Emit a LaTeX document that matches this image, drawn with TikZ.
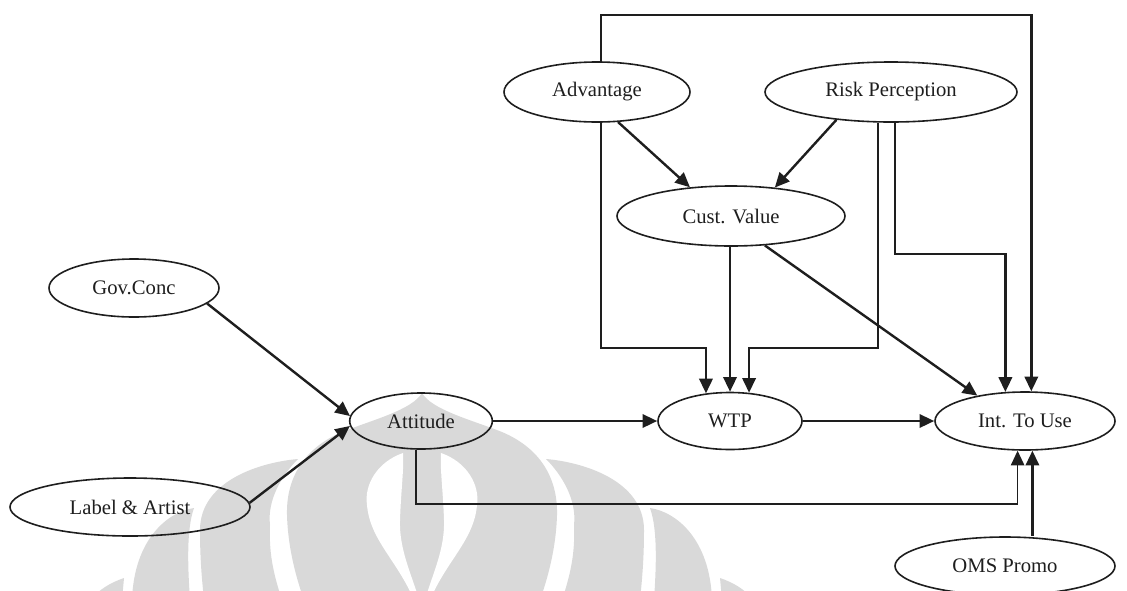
\documentclass[tikz,border=0pt]{standalone}
\usepackage{fontspec}
\setmainfont{Liberation Serif}
\usetikzlibrary{shapes.geometric,arrows.meta}
\definecolor{wm}{RGB}{217,217,217}
\definecolor{ink}{RGB}{30,30,30}
\begin{document}
\begin{tikzpicture}[x=0.75pt,y=-0.75pt,
  oval/.style={ellipse,draw=ink,line width=1.2pt,inner sep=0pt,text=ink,font=\fontsize{15.5}{18}\selectfont},
  conn/.style={draw=ink,line width=1.8pt,-{Triangle[length=11pt,width=10pt]}},
  thinconn/.style={conn,line width=1.3pt},
  wmgray/.style={fill=wm},
  wmwhite/.style={fill=white}
]
\useasboundingbox (0,0) rectangle (1127,590);
\clip (0,0) rectangle (1127,590);

% watermark (background logo)
\begin{scope}[shift={(422,0)}]
  \foreach \s in {1,-1}{
    \begin{scope}[xscale=\s]
      % middle onion
      \path[wmgray] (0,393) .. controls (-10,410) and (-50,420) .. (-80,432)
        .. controls (-118,448) and (-136,478) .. (-135,515)
        .. controls (-134,550) and (-125,580) .. (-118,600) -- (0,600) -- cycle;
      % first lobe
      \path[wmgray] (-124,459) .. controls (-160,462) and (-222,480) .. (-222,530)
        .. controls (-222,560) and (-220,580) .. (-218,600) -- (-140,600)
        .. controls (-150,570) and (-153,550) .. (-152,525)
        .. controls (-155,500) and (-140,475) .. (-124,459) -- cycle;
      % second lobe
      \path[wmgray] (-228,508) .. controls (-255,512) and (-288,540) .. (-290,600)
        -- (-232,600) .. controls (-234,570) and (-236,530) .. (-228,508) -- cycle;
      % third lobe
      \path[wmgray] (-298,578) .. controls (-310,582) and (-325,590) .. (-330,600)
        -- (-300,600) -- cycle;
    \end{scope}
  }
  \foreach \s in {1,-1}{
    \begin{scope}[xscale=\s]
      % white leaf beside the central flame
      \path[wmwhite] (-19,453) .. controls (-45,462) and (-58,485) .. (-55,505)
        .. controls (-52,540) and (-25,560) .. (-8,600) -- (-3,600)
        .. controls (-10,575) and (-23,550) .. (-22,520)
        .. controls (-21,490) and (-18,470) .. (-19,453) -- cycle;
    \end{scope}
  }
\end{scope}

% nodes
\node[oval,minimum width=139.5pt,minimum height=45pt] (adv) at (597,92) {Advantage};
\node[oval,minimum width=189pt,minimum height=45pt] (risk) at (891,92) {Risk Perception};
\node[oval,minimum width=171pt,minimum height=45pt] (cv) at (731,216) {Cust. Value};
\node[oval,minimum width=127.5pt,minimum height=43.5pt] (gov) at (134,288) {Gov.Conc};
\node[oval,minimum width=180pt,minimum height=43.5pt] (label) at (130,507) {Label \& Artist};
\node[oval,minimum width=107pt,minimum height=42pt] (att) at (421,421) {Attitude};
\node[oval,minimum width=108pt,minimum height=42.75pt] (wtp) at (730,421) {WTP};
\node[oval,minimum width=135pt,minimum height=43.5pt] (int) at (1025,421) {Int. To Use};
\node[oval,minimum width=165pt,minimum height=43.5pt] (oms) at (1005,566) {OMS Promo};

% routing corners
\coordinate (p1) at (601,348);
\coordinate (p2) at (878,348);
\coordinate (p3) at (895,254);
\coordinate (p4) at (601,15);
\coordinate (p5) at (416,504);

% connectors
\draw[conn] (adv.south -| p1) -- (p1) -| (wtp.131);
\draw[conn] (cv.south -| wtp.north) -- (wtp.north);
\draw[conn] (risk.south -| p2) -- (p2) -| (wtp.56);
\draw[conn] (risk.south -| p3) -- (p3) -| (int.124);
\draw[conn] (adv.north -| p4) -- (p4) -| (int.78);
\draw[conn] (adv.305) -- (cv.145);
\draw[conn] (risk.207) -- (cv.33);
\draw[conn] (cv.319) -- (int.152);
\draw[conn] (gov.348) -- (att.176);
\draw[conn] (label.2) -- (att.184);
\draw[conn] (att.east) -- (wtp.west);
\draw[conn] (wtp.east) -- (int.west);
\draw[thinconn] (att.south -| p5) -- (p5) -| (int.256);
\draw[conn] (oms.north -| int.284) -- (int.284);
\end{tikzpicture}
\end{document}
